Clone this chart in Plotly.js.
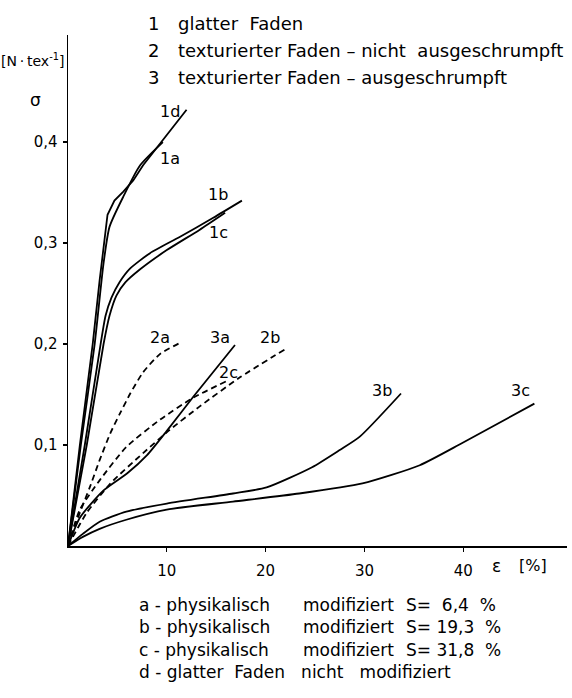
<!DOCTYPE html>
<html>
<head>
<meta charset="utf-8">
<script src="https://cdn.plot.ly/plotly-3.0.1.min.js"></script>
<style>html,body{margin:0;padding:0;background:#fff;}#chart{width:572px;height:698px;}</style>
</head>
<body>
<div id="chart"></div>
<script>
// ---- data (strain ε in %, stress σ in N/tex) ----
const x1a = [0, 1.3, 2.7, 3.6, 4.2, 5.6, 7.3, 9.6];
const y1a = [0, 0.10, 0.20, 0.28, 0.316, 0.346, 0.377, 0.400];
const x1d = [0, 1.2, 2.5, 3.2, 4.0, 4.7, 5.6, 6.6, 7.6, 9.6, 12.0];
const y1d = [0, 0.10, 0.20, 0.263, 0.328, 0.342, 0.351, 0.362, 0.377, 0.402, 0.432];
const x1b = [0, 1.7, 3.3, 3.8, 4.4, 5.2, 6.2, 8.3, 11.3, 14.7, 17.6];
const y1b = [0, 0.10, 0.20, 0.228, 0.246, 0.261, 0.274, 0.290, 0.306, 0.325, 0.342];
const x1c = [0, 1.9, 3.6, 4.2, 4.9, 5.8, 7.3, 10.0, 13.3, 15.9];
const y1c = [0, 0.10, 0.20, 0.228, 0.248, 0.261, 0.274, 0.293, 0.313, 0.330];
const x2a = [0, 1.2, 2.2, 3.2, 4.3, 5.3, 6.3, 7.6, 9.3, 11.3];
const y2a = [0, 0.033, 0.058, 0.085, 0.112, 0.132, 0.151, 0.172, 0.190, 0.201];
const x2b = [0, 1.9, 4.3, 7.6, 10.3, 13.3, 17.4, 22.0];
const y2b = [0, 0.033, 0.062, 0.092, 0.115, 0.138, 0.167, 0.195];
const x2c = [0, 1.2, 3.2, 5.9, 9.3, 12.7, 16.0];
const y2c = [0, 0.036, 0.065, 0.098, 0.125, 0.147, 0.163];
const x3a = [0, 1.2, 3.6, 6.0, 8.0, 10.0, 12.7, 16.9];
const y3a = [0, 0.028, 0.055, 0.072, 0.090, 0.114, 0.148, 0.199];
const x3b = [0, 1.5, 3.2, 5.9, 10.0, 16.7, 20.1, 24.7, 27.5, 29.5, 33.7];
const y3b = [0, 0.012, 0.024, 0.034, 0.042, 0.052, 0.058, 0.078, 0.095, 0.108, 0.151];
const x3c = [0, 1.5, 3.2, 5.9, 10.0, 16.7, 23.4, 29.8, 35.6, 39.9, 47.2];
const y3c = [0, 0.009, 0.017, 0.026, 0.036, 0.044, 0.052, 0.062, 0.080, 0.102, 0.141];

const curveNames = ['1a','1d','1b','1c','2a','2b','2c','3a','3b','3c'];
const xTicks = [10, 20, 30, 40];
const xTickText = ['10', '20', '30', '40'];
const yTicks = [0.1, 0.2, 0.3, 0.4];
const yTickText = ['0,1', '0,2', '0,3', '0,4'];

const legendNums = ['1', '2', '3'];
const legendTop = [
  'glatter\u00a0\u00a0Faden',
  'texturierter\u00a0Faden\u00a0\u2013\u00a0nicht\u00a0\u00a0ausgeschrumpft',
  'texturierter\u00a0Faden\u00a0\u2013\u00a0ausgeschrumpft'
];
const legendBottomA = ['a\u00a0-\u00a0physikalisch', 'b\u00a0-\u00a0physikalisch', 'c\u00a0-\u00a0physikalisch', 'd\u00a0-\u00a0glatter\u00a0\u00a0Faden\u00a0\u00a0\u00a0nicht\u00a0\u00a0\u00a0modifiziert'];
const legendBottomB = ['modifiziert', 'modifiziert', 'modifiziert', ''];
const legendBottomC = ['S=\u00a0\u00a06,4\u00a0\u00a0%', 'S=\u00a019,3\u00a0\u00a0%', 'S=\u00a031,8\u00a0\u00a0%', ''];

// label positions (data coords)
const labelX = [10.3, 10.3, 15.2, 15.2, 9.3, 20.4, 16.2, 15.4, 31.8, 45.8];
const labelY = [0.384, 0.430, 0.348, 0.310, 0.206, 0.206, 0.172, 0.206, 0.154, 0.154];

// ---- build ----
const FONT = 'DejaVu Sans, sans-serif';
const series = [
  [x1a,y1a,'solid'],[x1d,y1d,'solid'],[x1b,y1b,'solid'],[x1c,y1c,'solid'],
  [x2a,y2a,'6px,4px'],[x2b,y2b,'6px,4px'],[x2c,y2c,'6px,4px'],
  [x3a,y3a,'solid'],[x3b,y3b,'solid'],[x3c,y3c,'solid']
];
const traces = series.map((s, i) => ({
  x: s[0], y: s[1], type: 'scatter', mode: 'lines', name: curveNames[i],
  line: {color: '#000', width: 1.8, dash: s[2], shape: curveNames[i]==='1d' ? 'linear' : 'spline', smoothing: 0.6},
  hoverinfo: 'skip'
}));

const L = 68, R = 567, T = 35, B = 546;
const px = v => (v - L) / (R - L);
const py = v => (B - v) / (B - T);
const f = s => ({family: FONT, size: s, color: '#000'});
const note = (x, y, text, size, xanchor) => ({x: px(x), y: py(y), xref: 'paper', yref: 'paper', xanchor: xanchor || 'center', yanchor: 'middle', text, showarrow: false, font: f(size)});

const ann = [];
curveNames.forEach((n, i) => ann.push({x: labelX[i], y: labelY[i], xref: 'x', yref: 'y', text: n, showarrow: false, font: f(16)}));
legendTop.forEach((t, i) => {
  ann.push(note(146, 23 + 27 * i, legendNums[i], 18, 'left'));
  ann.push(note(176, 23 + 27 * i, t, 18, 'left'));
});
[605, 627, 650, 672].forEach((yy, i) => {
  ann.push(note(137, yy, legendBottomA[i], 17, 'left'));
  if (legendBottomB[i]) ann.push(note(301, yy, legendBottomB[i], 17, 'left'));
  if (legendBottomC[i]) ann.push(note(404, yy, legendBottomC[i], 17, 'left'));
});
ann.push(note(66, 60, '[N\u2009\u00b7\u2009tex<sup>-1</sup>]', 14, 'right'));
ann.push(note(35, 100, '\u03c3', 17));
ann.push(note(496, 566, '\u03b5', 17));
ann.push(note(533, 565, '[%]', 16));

const layout = {
  width: 572, height: 698,
  margin: {l: L, r: 572 - R, t: T, b: 698 - B, pad: 0},
  paper_bgcolor: '#fff', plot_bgcolor: '#fff',
  showlegend: false,
  xaxis: {range: [0, 50.5], showgrid: false, zeroline: false, showline: true, linecolor: '#000', linewidth: 1.5,
    ticks: 'outside', ticklen: 4, tickwidth: 1.2, tickcolor: '#000', tickvals: xTicks, ticktext: xTickText,
    tickfont: f(15), ticklabelstandoff: 6},
  yaxis: {range: [0, 0.506], showgrid: false, zeroline: false, showline: true, linecolor: '#000', linewidth: 1.5,
    ticks: 'outside', ticklen: 4, tickwidth: 1.2, tickcolor: '#000', tickvals: yTicks, ticktext: yTickText,
    tickfont: f(15), ticklabelstandoff: 2},
  annotations: ann
};
Plotly.newPlot('chart', traces, layout, {staticPlot: true, displayModeBar: false});
</script>
</body>
</html>
